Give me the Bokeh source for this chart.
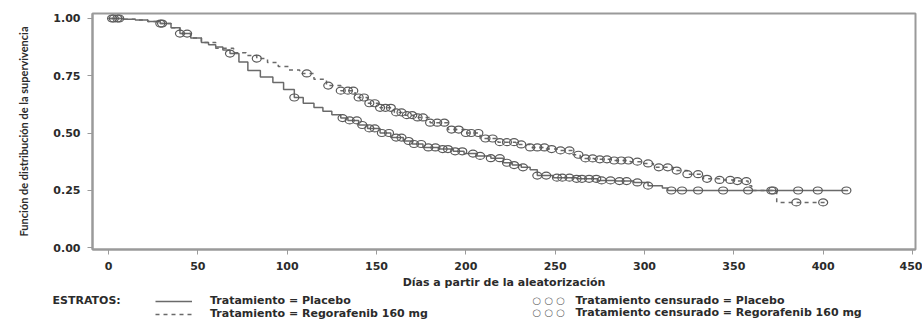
import numpy as np
from bokeh.plotting import figure
from bokeh.models import Range1d, Label, Legend, LegendItem, FixedTicker, CustomJSTickFormatter
from bokeh.embed import file_html
from bokeh.resources import INLINE

# ---- data (Kaplan-Meier estimates) ----
placebo_t = [0, 8, 15, 22, 29, 35, 40, 46, 52, 56, 60, 64, 68, 73, 78, 85, 92, 98, 104, 109, 115,
             120, 125, 130, 134, 140, 145, 152, 158, 165, 170, 176, 185, 193, 199, 206, 214, 221,
             226, 231, 236, 240, 249, 262, 274, 284, 294, 302, 310, 313, 414]
placebo_s = [1.0, 0.997, 0.993, 0.987, 0.978, 0.96, 0.934, 0.915, 0.895, 0.885, 0.875, 0.862,
             0.847, 0.81, 0.773, 0.745, 0.72, 0.69, 0.655, 0.63, 0.611, 0.595, 0.58, 0.565, 0.555,
             0.535, 0.52, 0.50, 0.48, 0.465, 0.452, 0.437, 0.43, 0.42, 0.41, 0.40, 0.39, 0.37,
             0.36, 0.35, 0.34, 0.314, 0.305, 0.30, 0.293, 0.29, 0.284, 0.27, 0.26, 0.249, 0.249]

rego_t = [0, 8, 15, 22, 29, 35, 40, 46, 52, 60, 70, 77, 83, 89, 95, 101, 107, 115, 122, 130, 138,
          145, 152, 160, 166, 171, 180, 190, 200, 208, 218, 228, 236, 245, 253, 260, 264, 272,
          283, 292, 299, 305, 316, 324, 333, 342, 350, 358, 360, 374, 402]
rego_s = [1.0, 0.997, 0.993, 0.987, 0.978, 0.96, 0.934, 0.915, 0.895, 0.87, 0.85, 0.838, 0.825,
          0.808, 0.79, 0.775, 0.76, 0.735, 0.707, 0.685, 0.655, 0.63, 0.61, 0.59, 0.578, 0.568,
          0.545, 0.515, 0.50, 0.476, 0.46, 0.45, 0.437, 0.43, 0.424, 0.405, 0.389, 0.385, 0.38,
          0.375, 0.367, 0.35, 0.336, 0.32, 0.30, 0.295, 0.29, 0.27, 0.249, 0.197, 0.197]

placebo_cens = [2, 5, 29, 40, 68, 104, 131, 135, 139, 142, 146, 149, 153, 157, 161, 164, 168,
                171, 175, 179, 183, 187, 190, 194, 198, 204, 208, 214, 219, 223, 227, 232, 240,
                245, 251, 254, 258, 262, 265, 269, 273, 276, 281, 286, 290, 296, 302, 315, 321,
                330, 344, 358, 371, 386, 397, 413]
rego_cens = [3, 6, 30, 44, 83, 111, 123, 130, 134, 137, 140, 143, 146, 149, 152, 155, 158, 161,
             164, 167, 170, 173, 176, 180, 184, 188, 192, 196, 200, 203, 207, 211, 215, 219, 223,
             227, 231, 236, 240, 244, 248, 253, 258, 263, 267, 271, 275, 279, 283, 287, 291, 296,
             302, 308, 313, 318, 324, 330, 335, 342, 348, 352, 357, 372, 385, 400]

x_ticks = [0, 50, 100, 150, 200, 250, 300, 350, 400, 450]
y_ticks = [0.0, 0.25, 0.50, 0.75, 1.00]

x_title = "Días a partir de la aleatorización"
y_title = "Función de distribución de la supervivencia"
legend_title = "ESTRATOS:"
lab_placebo = "Tratamiento = Placebo"
lab_rego = "Tratamiento = Regorafenib 160 mg"
lab_cens_placebo = "Tratamiento censurado = Placebo"
lab_cens_rego = "Tratamiento censurado = Regorafenib 160 mg"


def on_curve(t, s, c):
    idx = np.searchsorted(np.asarray(t), np.asarray(c), side="right") - 1
    return list(np.asarray(s)[idx])


FONT = "DejaVu Sans"
TXT = "#2b2b2b"
GREY = "#6a6a6a"
FRAME = "#9a9a9a"

# ---------------- main plot ----------------
p = figure(width=922, height=292, output_backend="svg", toolbar_location=None,
           x_range=Range1d(-8.955, 451.68), y_range=Range1d(-0.0087, 1.0218),
           min_border_left=92, min_border_top=13, min_border_right=7, min_border_bottom=43)
p.background_fill_color = "white"
p.border_fill_color = "white"
p.outline_line_color = FRAME
p.outline_line_width = 2
p.xgrid.visible = False
p.ygrid.visible = False

STEP = dict(mode="after", line_color=GREY, line_width=1.5)
p.step(placebo_t, placebo_s, **STEP)
p.step(rego_t, rego_s, line_dash="4 4", **STEP)
CENS = dict(width=9, height=7, width_units="screen", height_units="screen",
            fill_color=None, line_color="#5a5a5a", line_width=1.2)
p.ellipse(placebo_cens, on_curve(placebo_t, placebo_s, placebo_cens), **CENS)
p.ellipse(rego_cens, on_curve(rego_t, rego_s, rego_cens), **CENS)

for ax in (p.xaxis[0], p.yaxis[0]):
    ax.axis_line_color = FRAME
    ax.axis_line_width = 2
    ax.major_tick_line_color = FRAME
    ax.major_tick_out = 5
    ax.major_tick_in = 0
    ax.minor_tick_line_color = None
    ax.major_label_text_font = FONT
    ax.major_label_text_font_size = "11px"
    ax.major_label_text_font_style = "bold"
    ax.major_label_text_color = TXT
    ax.axis_label_text_font_style = "bold"
    ax.axis_label_text_color = TXT

p.xaxis.ticker = FixedTicker(ticks=x_ticks)
p.yaxis.ticker = FixedTicker(ticks=y_ticks)
p.yaxis.formatter = CustomJSTickFormatter(code="return tick.toFixed(2);")
p.xaxis.major_label_standoff = 7
p.yaxis.major_label_standoff = 7
p.xaxis.axis_label = x_title
p.yaxis.axis_label = y_title
p.xaxis.axis_label_text_font = FONT
p.xaxis.axis_label_text_font_size = "11px"
p.yaxis.axis_label_text_font = "Lato"
p.yaxis.axis_label_text_font_size = "11px"
p.xaxis.axis_label_standoff = 3
p.yaxis.axis_label_standoff = 20

# ---------------- legend strip (separate root, frame spans full width) ----------------
lg = figure(width=922, height=34, output_backend="svg", toolbar_location=None,
            x_range=Range1d(0, 1), y_range=Range1d(5, 6), x_axis_type=None, y_axis_type=None,
            min_border=0, min_border_left=0, min_border_right=0, min_border_top=0,
            min_border_bottom=0)
lg.outline_line_color = None
lg.xgrid.visible = False
lg.ygrid.visible = False
# legend keys: same series, drawn outside the strip's visible range
k_pl = lg.step(placebo_t, placebo_s, **STEP)
k_rg = lg.step(rego_t, rego_s, line_dash="4 4", **STEP)

legend = Legend(items=[LegendItem(label=lab_placebo, renderers=[k_pl]),
                       LegendItem(label=lab_rego, renderers=[k_rg])],
                location=(155, 6), orientation="vertical", padding=0, margin=0, spacing=0,
                glyph_width=37, glyph_height=12, label_height=12, label_standoff=18,
                label_text_font=FONT, label_text_font_size="11px", label_text_font_style="bold",
                label_text_color=TXT, border_line_color=None, background_fill_alpha=0)
lg.add_layout(legend, "center")

common = dict(x_units="screen", y_units="screen", text_font=FONT, text_font_size="11px",
              text_font_style="bold", text_color=TXT, text_baseline="middle", text_align="left")
lg.add_layout(Label(x=52, y=26, text=legend_title, **common))
lg.add_layout(Label(x=575, y=26, text=lab_cens_placebo, **common))
lg.add_layout(Label(x=575, y=14, text=lab_cens_rego, **common))
circ = dict(common)
circ.update(text_color="#6a6a6a", text_font_size="10px", text_font_style="normal")
lg.add_layout(Label(x=532, y=26, text="○ ○ ○", **circ))
lg.add_layout(Label(x=532, y=14, text="○ ○ ○", **circ))

open("out.html", "w").write(file_html([p, lg], INLINE))
